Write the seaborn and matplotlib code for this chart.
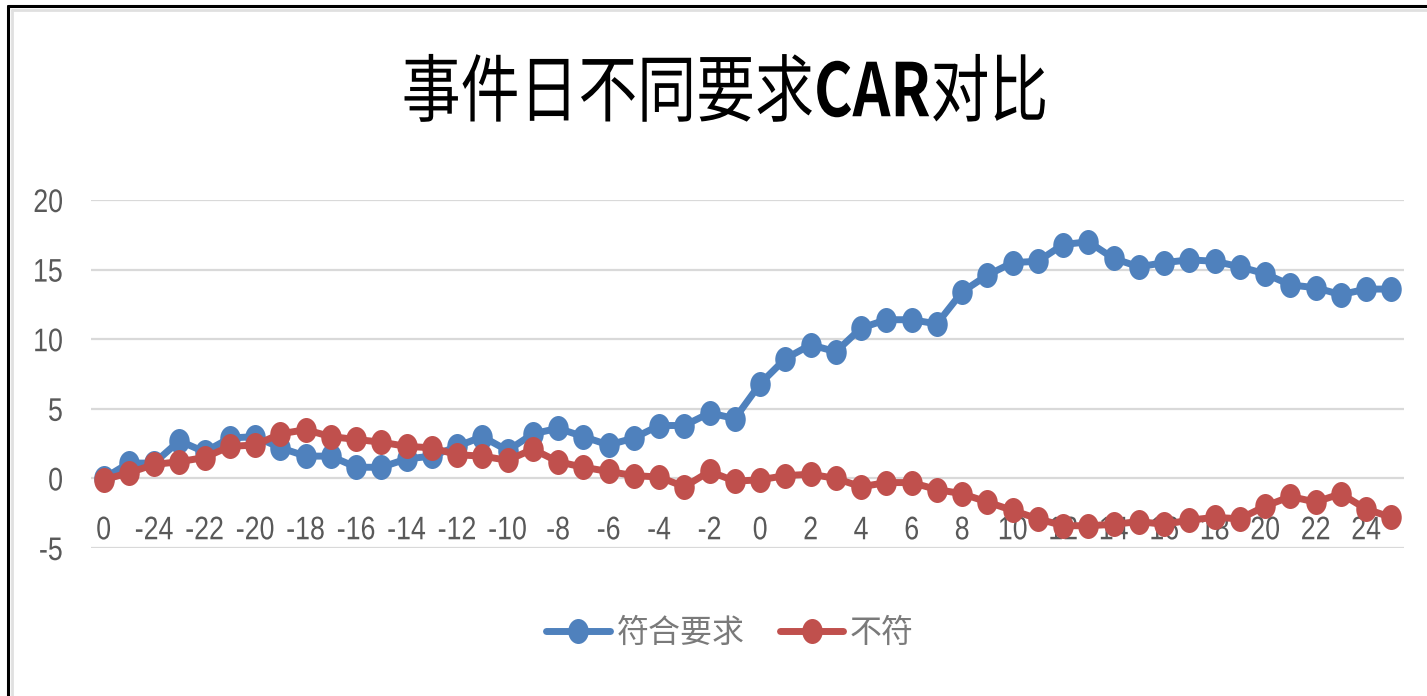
import matplotlib
matplotlib.use("Agg")
import matplotlib.pyplot as plt
from matplotlib.lines import Line2D
from matplotlib.markers import MarkerStyle
from matplotlib.patheffects import AbstractPathEffect
from matplotlib.transforms import Affine2D
import numpy as np
import pandas as pd
import seaborn as sns

# Event-window day labels (first slot is labelled "0", then -25 .. 25)
day_labels = ["0"] + [str(d) for d in range(-25, 26)]

# Cumulative abnormal return for the two groups
car_meet = [0.0, 1.1, 1.1, 2.7, 1.9, 2.9, 3.0, 2.2, 1.6, 1.6, 0.8, 0.8, 1.4,
            1.6, 2.3, 3.0, 2.0, 3.2, 3.6, 3.0, 2.4, 2.9, 3.8, 3.8, 4.7, 4.3,
            6.8, 8.6, 9.6, 9.1, 10.8, 11.4, 11.4, 11.1, 13.4, 14.6, 15.5, 15.6,
            16.8, 17.0, 15.8, 15.2, 15.5, 15.7, 15.6, 15.2, 14.7, 13.9, 13.7,
            13.2, 13.6, 13.6]
car_fail = [-0.1, 0.4, 1.0, 1.2, 1.5, 2.3, 2.4, 3.2, 3.5, 3.0, 2.8, 2.6, 2.3,
            2.2, 1.7, 1.6, 1.3, 2.1, 1.2, 0.8, 0.5, 0.2, 0.1, -0.6, 0.5, -0.2,
            -0.1, 0.2, 0.3, 0.0, -0.6, -0.3, -0.3, -0.8, -1.1, -1.7, -2.3, -2.9,
            -3.4, -3.4, -3.3, -3.1, -3.3, -3.0, -2.8, -2.9, -2.0, -1.3, -1.7,
            -1.1, -2.2, -2.8]
series_names = ["符合要求", "不符"]
series_colors = ["#4F81BD", "#C0504D"]
y_ticks = [-5, 0, 5, 10, 15, 20]


class Condense(AbstractPathEffect):
    """Squeeze rendered text horizontally about an anchor."""

    def __init__(self, sx, anchor="center", x_fixed=None):
        super().__init__()
        self.sx = sx
        self.anchor = anchor
        self.x_fixed = x_fixed

    def draw_path(self, renderer, gc, tpath, affine, rgbFace=None):
        if self.x_fixed is not None:
            cx = self.x_fixed
        else:
            bb = tpath.get_extents(affine)
            cx = {"left": bb.x0, "right": bb.x1}.get(self.anchor, (bb.x0 + bb.x1) / 2)
        squeeze = Affine2D().translate(-cx, 0).scale(self.sx, 1).translate(cx, 0)
        renderer.draw_path(gc, tpath, affine + squeeze, rgbFace)


positions = np.arange(len(day_labels))
df = pd.DataFrame({
    "pos": np.concatenate([positions, positions]),
    "car": car_meet + car_fail,
    "group": [series_names[0]] * len(positions) + [series_names[1]] * len(positions),
})

sns.set_style("white")
plt.rcParams["font.family"] = ["Noto Sans CJK SC", "DejaVu Sans"]

W, H = 1427, 696
fig = plt.figure(figsize=(W / 100, H / 100), dpi=100)
ax = fig.add_axes([91 / W, 1 - 548 / H, (1404 - 91) / W, (548 - 200) / H])

dot = MarkerStyle("o", transform=Affine2D().scale(0.82, 1.0))
sns.lineplot(data=df, x="pos", y="car", hue="group", hue_order=series_names,
             palette=series_colors, marker=dot, markersize=18, markeredgewidth=0,
             linewidth=5, sort=False, ax=ax, legend=False)

ax.set_xlim(-0.5, len(day_labels) - 0.5)
ax.set_ylim(-5, 20)
ax.set_yticks(y_ticks)
ax.set_yticklabels([str(t) for t in y_ticks])
ax.set_xticks(positions[::2])
ax.set_xticklabels(day_labels[::2])
ax.set_xlabel("")
ax.set_ylabel("")
ax.grid(axis="y", color="#D9D9D9", linewidth=1.6)
ax.set_axisbelow(True)
for s in ["top", "right", "left"]:
    ax.spines[s].set_visible(False)
ax.spines["bottom"].set_position(("data", -2.55))
ax.spines["bottom"].set_color("none")

tick_font = ["Liberation Sans", "DejaVu Sans"]
ax.tick_params(axis="both", length=0, colors="#595959")
ax.tick_params(axis="y", pad=20)
ax.tick_params(axis="x", pad=1)
for lab in ax.get_xticklabels():
    lab.set_family(tick_font)
    lab.set_fontsize(23.5)
    lab.set_color("#595959")
    lab.set_path_effects([Condense(0.82, "center")])
for lab in ax.get_yticklabels():
    lab.set_family(tick_font)
    lab.set_fontsize(23.5)
    lab.set_color("#595959")
    lab.set_path_effects([Condense(0.82, "right")])

# Title: CJK text with a bold Latin "CAR", squeezed about the chart centre
title_cx = 725
parts = [("事件日不同要求", "normal"), ("CAR", "bold"), ("对比", "normal")]
texts = []
for s, w in parts:
    texts.append(fig.text(0, 1 - 95 / H, s, fontsize=53, fontweight=w,
                          color="black", va="center", ha="left",
                          path_effects=[Condense(0.8, x_fixed=title_cx)]))
fig.canvas.draw()
r = fig.canvas.get_renderer()
widths = [t.get_window_extent(r).width for t in texts]
x0 = title_cx - sum(widths) / 2
for t, w in zip(texts, widths):
    t.set_x(x0 / W)
    x0 += w

# Legend
handles = [Line2D([], [], color=c, linewidth=5, marker=dot, markersize=18,
                  markeredgewidth=0, solid_capstyle="round") for c in series_colors]
leg = fig.legend(handles, series_names, loc="center", bbox_to_anchor=(730 / W, 1 - 633 / H),
                 ncol=2, frameon=False, handlelength=2.0,
                 handletextpad=0.2, columnspacing=1.1, labelcolor="#7A7A7A",
                 prop={"weight": "light", "size": 23})

# Chart frame: dark top/left edges with a light inner shadow
fig.add_artist(Line2D([8 / W, 8 / W], [0, 1 - 6 / H], color="black", linewidth=2.2,
                      transform=fig.transFigure))
fig.add_artist(Line2D([8 / W, 1], [1 - 6 / H, 1 - 6 / H], color="black", linewidth=2.2,
                      transform=fig.transFigure))
fig.add_artist(Line2D([12 / W, 12 / W], [0, 1 - 10 / H], color="#E0E0E0", linewidth=2,
                      transform=fig.transFigure))
fig.add_artist(Line2D([12 / W, 1], [1 - 10 / H, 1 - 10 / H], color="#E0E0E0", linewidth=2,
                      transform=fig.transFigure))

fig.savefig("out.png", dpi=100)
